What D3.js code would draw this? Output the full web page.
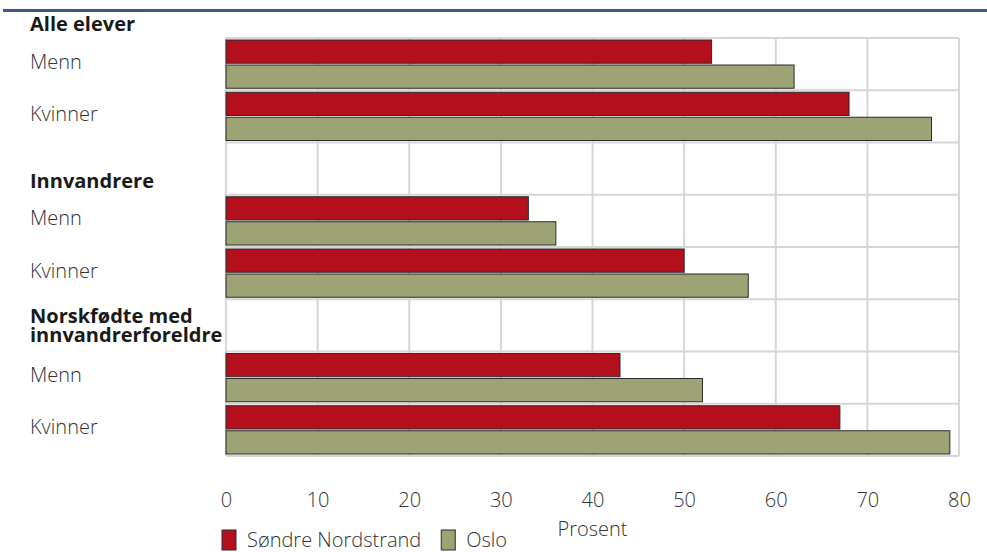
<!DOCTYPE html>
<html><head><meta charset="utf-8">
<script src="https://cdn.jsdelivr.net/npm/d3@7"></script>
<style>
html,body{margin:0;padding:0;background:#fff;}
svg{display:block;font-family:"Open Sans",sans-serif;}
</style></head>
<body>
<svg id="c" width="987" height="552"></svg>
<script>
const groups = ["Alle elever", "Innvandrere", "Norskfødte med innvandrerforeldre"];
const sexes = ["Menn", "Kvinner"];
const seriesNames = ["Søndre Nordstrand", "Oslo"];
const sondreNordstrand = [53, 68, 33, 50, 43, 67];
const oslo = [62, 77, 36, 57, 52, 79];
const xTicks = [0, 10, 20, 30, 40, 50, 60, 70, 80];
const colors = ["#b30f1d", "#9da374"];

(function () {
const svg = d3.select("#c");
const pL = 226, pR = 959, pT = 38, pB = 456;
const txt = "#333", fs = 20;

const rows = [];
groups.forEach((g, gi) => {
  rows.push({key: "h" + gi, type: "header", label: g});
  sexes.forEach((s, si) => {
    const i = gi * sexes.length + si;
    rows.push({key: "r" + i, type: "data", label: s, values: [sondreNordstrand[i], oslo[i]]});
  });
});
const bandH = (pB - pT) / 8;
const y = d3.scaleBand().domain(rows.map(r => r.key)).range([pT - bandH, pB]).padding(0);
const x = d3.scaleLinear().domain([0, 80]).range([pL, pR]);
const sub = d3.scaleBand().domain([0, 1]).range([0, bandH]).paddingInner(0.07).paddingOuter(0.08);

svg.append("rect").attr("x", 3).attr("y", 9).attr("width", 984).attr("height", 3).attr("fill", "#3f5b84");

const g = svg.append("g");
g.selectAll("line.v").data(xTicks).join("line")
  .attr("x1", d => x(d)).attr("x2", d => x(d)).attr("y1", pT).attr("y2", pB)
  .attr("stroke", "#d6d6d6").attr("stroke-width", 2);
const hLines = rows.slice(1).map(r => y(r.key)).concat([pB]);
g.selectAll("line.h").data(hLines).join("line")
  .attr("x1", pL).attr("x2", pR).attr("y1", d => d).attr("y2", d => d)
  .attr("stroke", "#d6d6d6").attr("stroke-width", 2);

const dataRows = rows.filter(r => r.type === "data");
dataRows.forEach(r => {
  r.values.forEach((v, si) => {
    svg.append("rect")
      .attr("x", x(0)).attr("y", y(r.key) + sub(si))
      .attr("width", x(v) - x(0)).attr("height", sub.bandwidth())
      .attr("fill", colors[si]).attr("stroke", "#2b2b2b").attr("stroke-width", 1);
  });
});

dataRows.forEach(r => {
  svg.append("text").attr("x", 30).attr("y", y(r.key) + bandH / 2 - 3)
    .attr("dominant-baseline", "central").attr("font-size", fs).attr("fill", txt)
    .attr("font-weight", 300).text(r.label);
});
rows.filter(r => r.type === "header").forEach(r => {
  const words = r.label.split(" ");
  let lines = [r.label];
  if (r.label.length > 20) lines = [words.slice(0, 2).join(" "), words.slice(2).join(" ")];
  const bb = y(r.key) + bandH;
  const base = lines.length > 1 ? bb - 10 : bb - 7;
  const t = svg.append("text").attr("font-size", fs).attr("font-weight", "bold").attr("fill", "#1a1a1a");
  lines.forEach((ln, i) => {
    t.append("tspan").attr("x", 30).attr("y", base - (lines.length - 1 - i) * 19).text(ln);
  });
});

const ax = svg.append("g").attr("transform", `translate(0,${pB})`)
  .call(d3.axisBottom(x).tickValues(xTicks).tickSize(0).tickPadding(37));
ax.select(".domain").remove();
ax.selectAll("text").attr("font-size", fs).attr("fill", txt).attr("font-weight", 300)
  .attr("font-family", "Open Sans, sans-serif");
svg.append("text").attr("x", (pL + pR) / 2).attr("y", 528).attr("dominant-baseline", "central")
  .attr("text-anchor", "middle").attr("font-weight", 300)
  .attr("font-size", fs).attr("fill", txt).text("Prosent");

const leg = svg.append("g").attr("transform", "translate(222,530)");
let lx = 0;
seriesNames.forEach((n, i) => {
  leg.append("rect").attr("x", lx).attr("y", 0).attr("width", 14).attr("height", 20)
    .attr("fill", colors[i]).attr("stroke", "#2b2b2b").attr("stroke-width", 1);
  const t = leg.append("text").attr("x", lx + 25).attr("y", 9).attr("dominant-baseline", "central")
    .attr("font-size", fs).attr("font-weight", 300).attr("fill", txt).text(n);
  lx += 25 + t.node().getComputedTextLength() + 20;
});
})();
</script>
</body></html>
